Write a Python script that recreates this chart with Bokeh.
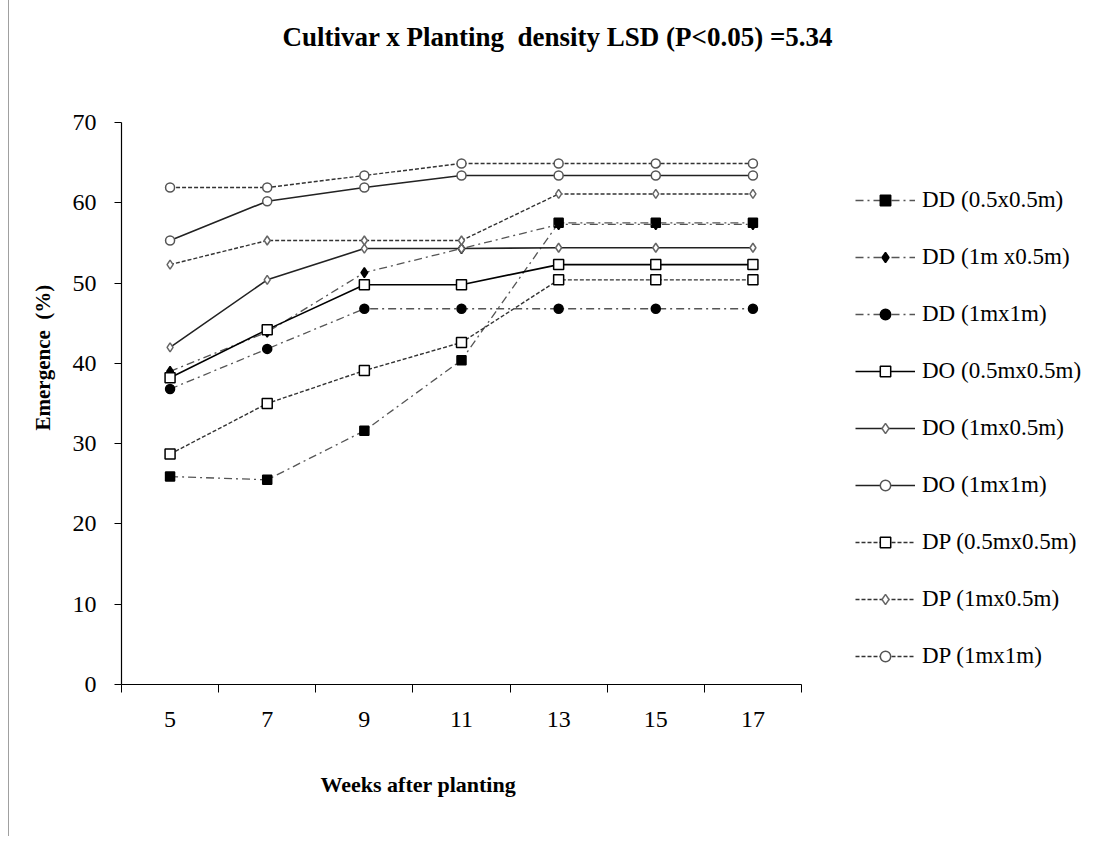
from bokeh.plotting import figure
from bokeh.models import Range1d, FixedTicker, Legend, LegendItem, Title
from bokeh.embed import file_html
from bokeh.resources import INLINE

weeks = [5, 7, 9, 11, 13, 15, 17]
dd_05x05 = [25.9, 25.5, 31.6, 40.4, 57.5, 57.5, 57.5]
dd_1x05 = [39.0, 43.9, 51.3, 54.3, 57.3, 57.3, 57.3]
dd_1x1 = [36.8, 41.8, 46.8, 46.8, 46.8, 46.8, 46.8]
do_05x05 = [38.2, 44.2, 49.8, 49.8, 52.3, 52.3, 52.3]
do_1x05 = [42.0, 50.4, 54.3, 54.3, 54.4, 54.4, 54.4]
do_1x1 = [55.3, 60.2, 61.9, 63.4, 63.4, 63.4, 63.4]
dp_05x05 = [28.7, 35.0, 39.1, 42.6, 50.4, 50.4, 50.4]
dp_1x05 = [52.3, 55.3, 55.3, 55.3, 61.1, 61.1, 61.1]
dp_1x1 = [61.9, 61.9, 63.4, 64.9, 64.9, 64.9, 64.9]

labels = ["DD (0.5x0.5m)", "DD (1m x0.5m)", "DD (1mx1m)",
          "DO (0.5mx0.5m)", "DO (1mx0.5m)", "DO (1mx1m)",
          "DP (0.5mx0.5m)", "DP (1mx0.5m)", "DP (1mx1m)"]
y_ticks = [0, 10, 20, 30, 40, 50, 60, 70]
x_bounds = [4, 6, 8, 10, 12, 14, 16, 18]

SERIF = "Liberation Serif"

# plot area: axis spans 4..18 over 680 px; frame extends right to hold the legend
FRAME_W = 970
PX_PER_UNIT = 680 / 14.0
x_end = 4 + FRAME_W / PX_PER_UNIT

p = figure(frame_width=FRAME_W, frame_height=562,
           x_range=Range1d(4, x_end), y_range=Range1d(0, 70),
           output_backend="svg", toolbar_location=None,
           min_border_left=112, min_border_right=0, min_border_top=122, min_border_bottom=0)
p.styles = {"margin-left": "8px", "border-left": "1px solid #a0a0a0"}
p.grid.visible = False
p.outline_line_color = None
p.background_fill_color = "white"
p.border_fill_color = "white"

# x axis: labels at category centres, tick marks at boundaries
p.xaxis.bounds = (4, 18)
p.xaxis.ticker = FixedTicker(ticks=weeks, minor_ticks=x_bounds)
p.xaxis.major_tick_line_color = None
p.xaxis.minor_tick_line_color = "black"
p.xaxis.minor_tick_out = 8
p.xaxis.minor_tick_in = 0
p.xaxis.major_label_standoff = 19
p.xaxis.major_label_text_font = SERIF
p.xaxis.major_label_text_font_size = "24px"
p.xaxis.major_label_text_color = "black"
p.xaxis.axis_line_color = "black"
p.xaxis.axis_line_width = 1.2

p.yaxis.ticker = FixedTicker(ticks=y_ticks)
p.yaxis.minor_tick_line_color = None
p.yaxis.major_tick_out = 7
p.yaxis.major_tick_in = 0
p.yaxis.major_tick_line_color = "black"
p.yaxis.major_label_standoff = 18
p.yaxis.major_label_text_font = SERIF
p.yaxis.major_label_text_font_size = "24px"
p.yaxis.major_label_text_color = "black"
p.yaxis.axis_line_color = "black"
p.yaxis.axis_line_width = 1.2

dd_dash = "8 4 2 4"
dp_dash = "4 2"
styles = [
    (dd_05x05, dd_dash, "#555555", 1.3, "square", 9, "black", "black"),
    (dd_1x05, dd_dash, "#555555", 1.3, "diamond", 10, "black", "black"),
    (dd_1x1, dd_dash, "#555555", 1.3, "circle", 9, "black", "black"),
    (do_05x05, "solid", "black", 1.6, "square", 10, "white", "black"),
    (do_1x05, "solid", "#222222", 1.6, "diamond", 9, "white", "#666666"),
    (do_1x1, "solid", "#222222", 1.6, "circle", 9, "white", "#555555"),
    (dp_05x05, dp_dash, "#333333", 1.4, "square", 10, "white", "black"),
    (dp_1x05, dp_dash, "#333333", 1.4, "diamond", 9, "white", "#666666"),
    (dp_1x1, dp_dash, "#333333", 1.4, "circle", 9, "white", "#555555"),
]

items = []
for lab, (vals, dash, col, lw, mk, sz, fill, mline) in zip(labels, styles):
    r1 = p.line(weeks, vals, line_color=col, line_width=lw, line_dash=dash)
    r2 = p.scatter(weeks, vals, marker=mk, size=sz, fill_color=fill,
                   line_color=mline, line_width=1.5)
    items.append(LegendItem(label=lab, renderers=[r1, r2]))

legend = Legend(items=items, location=(734, 15), orientation="vertical")
legend.glyph_width = 60
legend.glyph_height = 26
legend.label_height = 26
legend.spacing = 31
legend.padding = 0
legend.margin = 0
legend.label_standoff = 7
legend.label_text_font = SERIF
legend.label_text_font_size = "23px"
legend.label_text_color = "black"
legend.border_line_color = None
legend.background_fill_alpha = 0
p.add_layout(legend, "center")

# spacer first (closest to the frame), then the main title above it
spacer = Title(text=" ", standoff=58, text_font_size="1px")
p.add_layout(spacer, "above")
title = Title(text="Cultivar x Planting\u00a0 density LSD (P<0.05) =5.34", align="left",
              offset=161, standoff=20, text_font=SERIF, text_font_size="27px",
              text_font_style="bold", text_color="black")
p.add_layout(title, "above")

xlab = Title(text="Weeks after planting", align="left", offset=199, standoff=80,
             text_font=SERIF, text_font_size="22px", text_font_style="bold",
             text_color="black")
p.add_layout(xlab, "below")

ylab = Title(text="Emergence\u00a0 (%)", align="left", offset=254, standoff=30,
             text_font=SERIF, text_font_size="21px", text_font_style="bold",
             text_color="black")
p.add_layout(ylab, "left")

open("out.html", "w").write(file_html(p, INLINE))
